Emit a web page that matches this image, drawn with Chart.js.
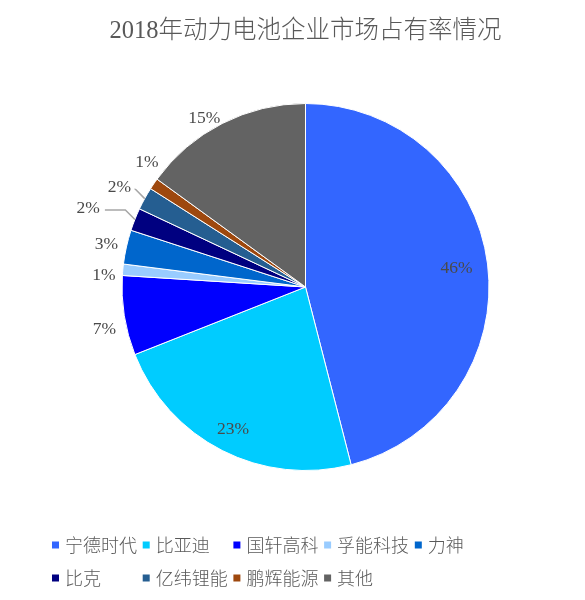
<!DOCTYPE html>
<html><head><meta charset="utf-8">
<script src="https://cdn.jsdelivr.net/npm/chart.js@4/dist/chart.umd.min.js"></script>
<style>html,body{margin:0;padding:0;background:#fff}#wrap{width:585px;height:600px;position:relative}</style>
</head><body><div id="wrap"><canvas id="c"></canvas></div>
<script>
const categories = ['宁德时代','比亚迪','国轩高科','孚能科技','力神','比克','亿纬锂能','鹏辉能源','其他'];
const shares = [46,23,7,1,3,2,2,1,15];
const colors = ['#3366FF','#00CCFF','#0000FF','#99CCFF','#0066CC','#000080','#255E91','#9E480E','#636363'];
const titleText = '2018年动力电池企业市场占有率情况';
// label placement per slice: [radius factor, angle shift (deg), leader line]
const labelPlace = [[0.83,0,false],[0.87,0,false],[1.12,-3,false],[1.10,-2,false],[1.11,-0.5,false],[1.26,-1.6,true],[1.15,-0.7,true],[1.10,4,false],[1.07,-4,false]];

const serif = "'Liberation Serif','Noto Sans CJK SC',serif";
const cjk = "'Noto Sans CJK SC','Liberation Serif',sans-serif";

const sliceLabels = {
  id: 'sliceLabels',
  afterDatasetsDraw(chart) {
    const ctx = chart.ctx;
    const meta = chart.getDatasetMeta(0);
    ctx.save();
    ctx.font = '17.5px ' + serif;
    ctx.fillStyle = '#4a4a4a';
    ctx.textAlign = 'center';
    ctx.textBaseline = 'middle';
    meta.data.forEach((arc, i) => {
      const p = arc.getProps(['x','y','startAngle','endAngle','outerRadius'], true);
      const [f, shift, leader] = labelPlace[i];
      const midRaw = (p.startAngle + p.endAngle) / 2;
      const mid = midRaw + shift * Math.PI / 180;
      const lx = p.x + Math.cos(mid) * p.outerRadius * f;
      const ly = p.y + Math.sin(mid) * p.outerRadius * f;
      const txt = shares[i] + '%';
      if (leader) {
        const hw = ctx.measureText(txt).width / 2;
        const ex = p.x + Math.cos(midRaw) * p.outerRadius;
        const ey = p.y + Math.sin(midRaw) * p.outerRadius;
        const yL = ly + 2;
        const elbowX = ex - (ey - yL) * 1.0;
        ctx.save();
        ctx.strokeStyle = '#A6A6A6';
        ctx.lineWidth = 1.5;
        ctx.beginPath();
        ctx.moveTo(lx + hw + 5, yL);
        ctx.lineTo(elbowX, yL);
        ctx.lineTo(ex, ey);
        ctx.stroke();
        ctx.restore();
      }
      ctx.fillText(txt, lx, ly);
    });
    ctx.restore();
  }
};

const bottomLegend = {
  id: 'bottomLegend',
  afterDraw(chart) {
    const ctx = chart.ctx;
    const labels = chart.data.labels;
    const bg = chart.data.datasets[0].backgroundColor;
    const left = 52, pitch = 90.7, rows = [545, 578], perRow = 5, box = 7;
    ctx.save();
    ctx.font = '300 18px ' + cjk;
    ctx.textBaseline = 'middle';
    ctx.textAlign = 'left';
    labels.forEach((lab, i) => {
      const r = Math.floor(i / perRow), c = i % perRow;
      const x = left + c * pitch, y = rows[r];
      ctx.fillStyle = bg[i];
      ctx.fillRect(x, y - box / 2, box, box);
      ctx.fillStyle = '#595959';
      ctx.fillText(lab, x + 13, y);
    });
    ctx.restore();
  }
};

new Chart(document.getElementById('c'), {
  type: 'pie',
  data: {
    labels: categories,
    datasets: [{ data: shares, backgroundColor: colors, borderColor: '#ffffff', borderWidth: 1 }]
  },
  options: {
    responsive: true,
    maintainAspectRatio: false,
    animation: false,
    layout: { padding: { left: 40, right: 14, top: 0, bottom: 129 } },
    plugins: {
      legend: { display: false },
      tooltip: { enabled: false },
      title: {
        display: true,
        text: titleText,
        color: '#595959',
        font: { family: serif, size: 24.5, weight: 300 },
        padding: { top: 17.3, bottom: 56.3 }
      }
    }
  },
  plugins: [sliceLabels, bottomLegend]
});
</script>
</body></html>
